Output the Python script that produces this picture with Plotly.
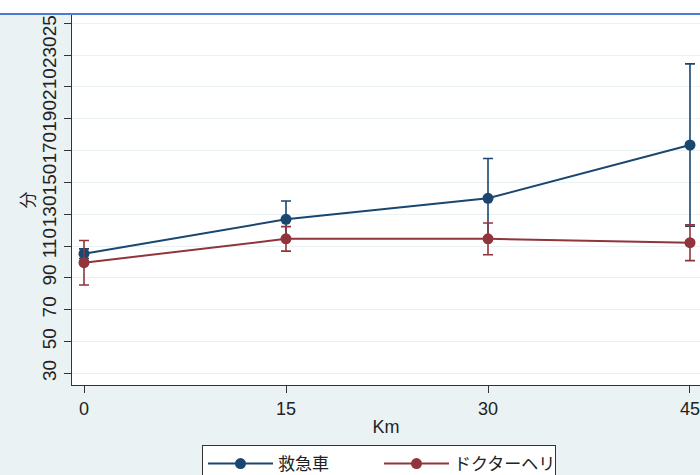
import plotly.graph_objects as go

km = [0, 15, 30, 45]
ambulance = [105.2, 126.8, 140.0, 173.5]
ambulance_err = [3, 11.5, 25, 51]
heli = [99.5, 114.5, 114.5, 112.1]
heli_err = [14, 7.7, 10, 11.3]
y_ticks = [30, 50, 70, 90, 110, 130, 150, 170, 190, 210, 230, 250]
x_ticks = [0, 15, 30, 45]
names = ["救急車", "ドクターヘリ"]

BLUE = "#1a476f"
RED = "#90353b"
BG = "#eaf2f3"
FONT = "Liberation Sans, Arial, Noto Sans CJK JP, sans-serif"

fig = go.Figure()
fig.add_trace(go.Scatter(
    x=km, y=ambulance, name=names[0], mode="lines+markers",
    line=dict(color=BLUE, width=2), marker=dict(color=BLUE, size=11),
    error_y=dict(type="data", array=ambulance_err, color=BLUE, thickness=1.6, width=5),
))
fig.add_trace(go.Scatter(
    x=km, y=heli, name=names[1], mode="lines+markers",
    line=dict(color=RED, width=2), marker=dict(color=RED, size=11),
    error_y=dict(type="data", array=heli_err, color=RED, thickness=1.6, width=5),
))

W, H = 700, 475
ml, mr, mt, mb = 72, 0, 15, 90
pw = W - ml - mr
ph = H - mt - mb

def px_x(p):
    return (p - ml) / pw

def px_y(p):
    return (H - mb - p) / ph

shapes = [
    dict(type="rect", xref="paper", yref="paper", x0=px_x(0), x1=px_x(W),
         y0=px_y(13), y1=px_y(0), fillcolor="white", line=dict(width=0), layer="above"),
    dict(type="line", xref="paper", yref="paper", x0=px_x(0), x1=px_x(W),
         y0=px_y(14), y1=px_y(14), line=dict(color="#4a7bd6", width=2), layer="above"),
]

fig.update_layout(
    width=W, height=H,
    margin=dict(l=ml, r=mr, t=mt, b=mb, autoexpand=False),
    paper_bgcolor=BG, plot_bgcolor="white",
    font=dict(family=FONT, size=18, color="#222"),
    showlegend=True,
    legend=dict(orientation="h", x=px_x(202), y=px_y(445), xanchor="left", yanchor="top",
                bgcolor="white", bordercolor="#333", borderwidth=1,
                font=dict(size=17), itemwidth=65, entrywidth=96),
    shapes=shapes,
    xaxis=dict(range=[-0.891, 45.743], tickvals=x_ticks, ticks="outside", ticklen=7,
               tickcolor="#333", showline=True, linecolor="#333", linewidth=1,
               showgrid=False, zeroline=False, ticklabeloverflow="allow",
               title=dict(text="Km", standoff=2, font=dict(size=18)),
               tickfont=dict(size=18)),
    yaxis=dict(range=[22.65, 255.2], tickvals=y_ticks, ticks="outside", ticklen=7,
               tickcolor="#333", showline=True, linecolor="#333", linewidth=1,
               showgrid=True, gridcolor=BG, gridwidth=1, zeroline=False,
               tickangle=-90, tickfont=dict(size=19),
               title=dict(text="分", standoff=0, font=dict(size=17))),
)

fig.write_html(
    "out.html",
    config={"displayModeBar": False},
    post_script="document.body.style.margin='0';document.body.style.overflow='hidden';",
)
